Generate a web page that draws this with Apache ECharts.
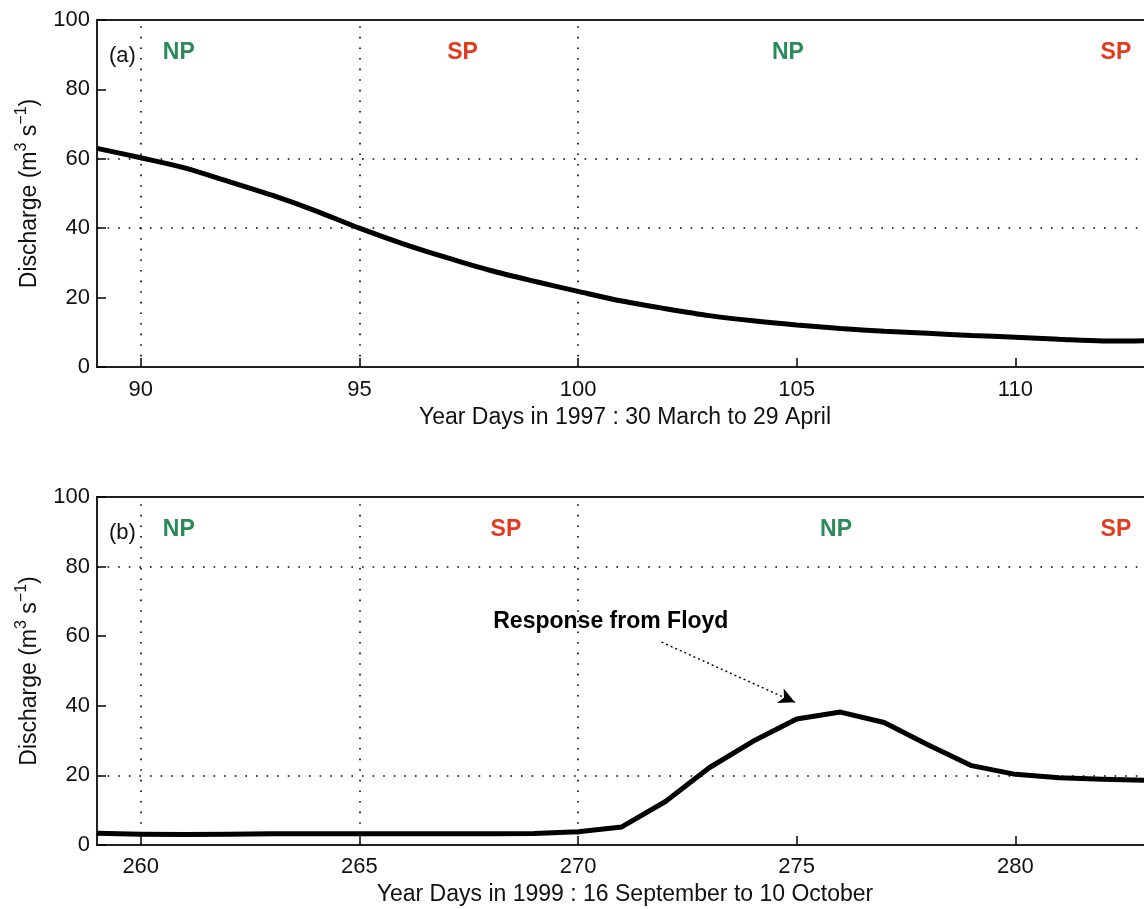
<!DOCTYPE html>
<html><head><meta charset="utf-8">
<script src="https://cdn.jsdelivr.net/npm/echarts@6/dist/echarts.min.js"></script>
<style>html,body{margin:0;padding:0;background:#fff}#c{width:1144px;height:909px}</style>
</head><body><div id="c"></div>
<script>
// ---- data ----
const daysA = [89,90,91,92,93,94,95,96,97,98,99,100,101,102,103,104,105,106,107,108,109,110,111,112,113,114];
const dischargeA = [63.0,60.3,57.4,53.5,49.5,45.0,40.0,35.5,31.5,27.8,24.7,21.8,19.0,16.8,14.8,13.3,12.1,11.1,10.3,9.7,9.1,8.6,8.0,7.5,7.6,8.0];
const daysB = [259,260,261,262,263,264,265,266,267,268,269,270,271,272,273,274,275,276,277,278,279,280,281,282,283,284];
const dischargeB = [3.4,3.1,3.0,3.1,3.2,3.2,3.2,3.2,3.2,3.2,3.3,3.8,5.2,12.5,22.2,29.8,36.2,38.2,35.2,28.8,22.8,20.3,19.3,18.9,18.6,18.3];
const ticksA = [90,95,100,105,110,115];
const ticksB = [260,265,270,275,280,285];
const vLinesA = [90,95,100];
const hLinesA = [60,40];
const vLinesB = [260,265,270];
const hLinesB = [80,20];
const phaseNames = ['NP','SP','NP','SP'];
const phaseXA = [90.87,97.36,104.8,112.3];
const phaseXB = [260.87,268.35,275.9,282.3];
const phaseY = 90.5;
const xNameA = 'Year Days in 1997 : 30 March to 29 April';
const xNameB = 'Year Days in 1999 : 16 September to 10 October';
const annotText = 'Response from Floyd';
const annotPos = [270.75, 64.3];
const arrowFrom = [271.91, 58.3];
const arrowTo = [274.96, 41.0];

// ---- styles ----
const FONT = '"Liberation Sans", Arial, sans-serif';
const phaseColor = {NP:'#2b8a58', SP:'#e33a1c'};
const dotted = {color:'#000', width:1.6, type:[1.6,9]};

function xAxisCfg(grid, min, max, ticks, margin){
  return {type:'value', gridIndex:grid, min:min, max:max,
    axisLine:{show:false},
    axisTick:{show:true, inside:true, length:9, customValues:ticks, lineStyle:{color:'#000', width:1.5}},
    axisLabel:{customValues:ticks, fontSize:22, color:'#111', margin:margin, fontFamily:FONT},
    splitLine:{show:false}};
}
function yAxisCfg(grid){
  return {type:'value', gridIndex:grid, min:0, max:100, interval:20,
    axisLine:{show:false},
    axisTick:{show:true, inside:true, length:9, lineStyle:{color:'#000', width:1.5}},
    axisLabel:{fontSize:22, color:'#111', margin:7, fontFamily:FONT},
    splitLine:{show:false},
    name:'{n|Discharge (m}{s|3}{n| s}{s|\u22121}{n|)}',
    nameLocation:'middle', nameGap:51,
    nameTextStyle:{rich:{
      n:{fontSize:23, color:'#111', fontFamily:FONT},
      s:{fontSize:16, color:'#111', fontFamily:FONT, padding:[0,0,16,0]}
    }}};
}
function refSeries(xi, vls, hls){
  return {type:'line', xAxisIndex:xi, yAxisIndex:xi, data:[], z:1,
    markLine:{silent:true, symbol:'none', label:{show:false}, lineStyle:dotted, animation:false,
      data:[...vls.map(v=>({xAxis:v})), ...hls.map(v=>({yAxis:v}))]}};
}
function phaseSeries(xi, xs){
  return {type:'scatter', xAxisIndex:xi, yAxisIndex:xi, symbolSize:0, z:5,
    itemStyle:{opacity:1},
    data: xs.map((x,i)=>({value:[x,phaseY], name:phaseNames[i],
      label:{color:phaseColor[phaseNames[i]]}})),
    label:{show:true, position:'inside', formatter:p=>p.name, fontSize:23, fontWeight:'bold', fontFamily:FONT}};
}

const option = {
  animation:false,
  backgroundColor:'#fff',
  grid:[
    {left:97, right:-90, top:20, height:347, show:true, borderColor:'#222', borderWidth:2, containLabel:false, outerBoundsMode:'none'},
    {left:97, right:-90, top:497, height:348, show:true, borderColor:'#222', borderWidth:2, containLabel:false, outerBoundsMode:'none'}
  ],
  xAxis:[xAxisCfg(0,89,115,ticksA,12), xAxisCfg(1,259,285,ticksB,11)],
  yAxis:[yAxisCfg(0), yAxisCfg(1)],
  graphic:[
    {type:'text', left:109, top:45, style:{text:'(a)', fill:'#111', font:'22px '+FONT}},
    {type:'text', left:109, top:522, style:{text:'(b)', fill:'#111', font:'22px '+FONT}},
    {type:'text', x:625, y:418, style:{text:xNameA, font:'23px '+FONT, fill:'#111', align:'center', verticalAlign:'middle'}},
    {type:'text', x:625, y:895, style:{text:xNameB, font:'23px '+FONT, fill:'#111', align:'center', verticalAlign:'middle'}}
  ],
  series:[
    refSeries(0, vLinesA, hLinesA),
    refSeries(1, vLinesB, hLinesB),
    {type:'line', xAxisIndex:0, yAxisIndex:0, z:3, smooth:0.3, showSymbol:false,
      lineStyle:{color:'#000', width:5}, data: daysA.map((d,i)=>[d,dischargeA[i]])},
    {type:'line', xAxisIndex:1, yAxisIndex:1, z:3, smooth:false, showSymbol:false,
      lineStyle:{color:'#000', width:5, join:'round'}, data: daysB.map((d,i)=>[d,dischargeB[i]]),
      markLine:{silent:true, symbol:['none','arrow'], symbolSize:[12,16], label:{show:false},
        lineStyle:{color:'#000', width:1.4, type:[2,3]},
        data:[[{coord:arrowFrom},{coord:arrowTo}]]},
      markPoint:{silent:true, symbol:'circle', symbolSize:0,
        data:[{coord:annotPos, value:annotText}],
        label:{show:true, formatter:annotText, fontSize:23, fontWeight:'bold', color:'#000', fontFamily:FONT}}},
    phaseSeries(0, phaseXA),
    phaseSeries(1, phaseXB)
  ]
};
const chart = echarts.init(document.getElementById('c'), null, {renderer:'canvas'});
chart.setOption(option);
</script>
</body></html>
